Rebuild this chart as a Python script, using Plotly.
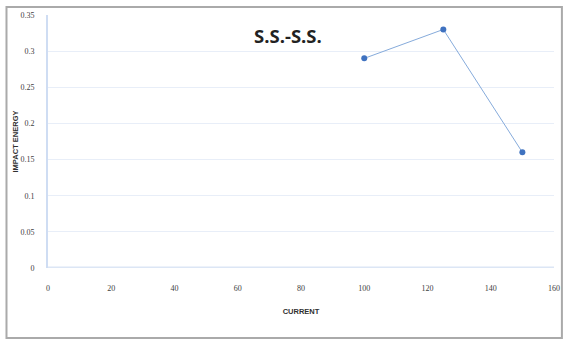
import plotly.graph_objects as go

current = [100, 125, 150]
impact_energy = [0.29, 0.33, 0.16]
x_ticks = [0, 20, 40, 60, 80, 100, 120, 140, 160]
y_ticks = [0, 0.05, 0.1, 0.15, 0.2, 0.25, 0.3, 0.35]
y_labels = ["0", "0.05", "0.1", "0.15", "0.2", "0.25", "0.3", "0.35"]

L, R, T, B = 48, 10, 15, 73
W, H = 570, 341
pw, ph = W - L - R, H - T - B

def px(x):
    return (x - L) / pw

def py(y):
    return (H - B - y) / ph

tick_font = dict(family="Liberation Serif", size=8, color="#404040")
title_font = dict(family="Liberation Sans", size=7.5, color="#303030")

fig = go.Figure()
fig.add_trace(go.Scatter(
    x=current, y=impact_energy, mode="lines+markers",
    line=dict(color="#86ABDB", width=1),
    marker=dict(color="#3F72C0", size=6),
    showlegend=False,
))

fig.update_layout(
    width=W, height=H,
    margin=dict(l=L, r=R, t=T, b=B),
    paper_bgcolor="white", plot_bgcolor="white",
    xaxis=dict(range=[0, 160], tickvals=x_ticks, showgrid=False, zeroline=False,
               showline=False, ticks="", ticklen=0, tickfont=tick_font,
               ticklabelstandoff=14,
               title=dict(text="<b>CURRENT</b>", font=title_font, standoff=16)),
    yaxis=dict(range=[0, 0.35], tickvals=y_ticks, ticktext=y_labels, showgrid=True,
               gridcolor="#E8EEF8", gridwidth=1, zeroline=False, showline=True,
               linecolor="#CFDDF3", linewidth=2, ticks="", ticklabelstandoff=10,
               tickfont=tick_font,
               title=dict(text="<b>IMPACT ENERGY</b>", font=title_font, standoff=0)),
    shapes=[
        dict(type="rect", xref="paper", yref="paper",
             x0=px(6), x1=px(568), y0=py(338), y1=py(7),
             line=dict(color="#AAAAAA", width=2), layer="below"),
        dict(type="line", xref="x", yref="y", x0=0, x1=160, y0=0, y1=0,
             line=dict(color="#DCE6F5", width=3), layer="below"),
    ],
    annotations=[
        dict(text="<b>S.S.-S.S.</b>", xref="paper", yref="paper",
             x=px(291), y=py(35), xanchor="center", yanchor="middle",
             showarrow=False, font=dict(family="Open Sans", size=18.5, color="#222")),
    ],
)

fig.write_html("out.html")
